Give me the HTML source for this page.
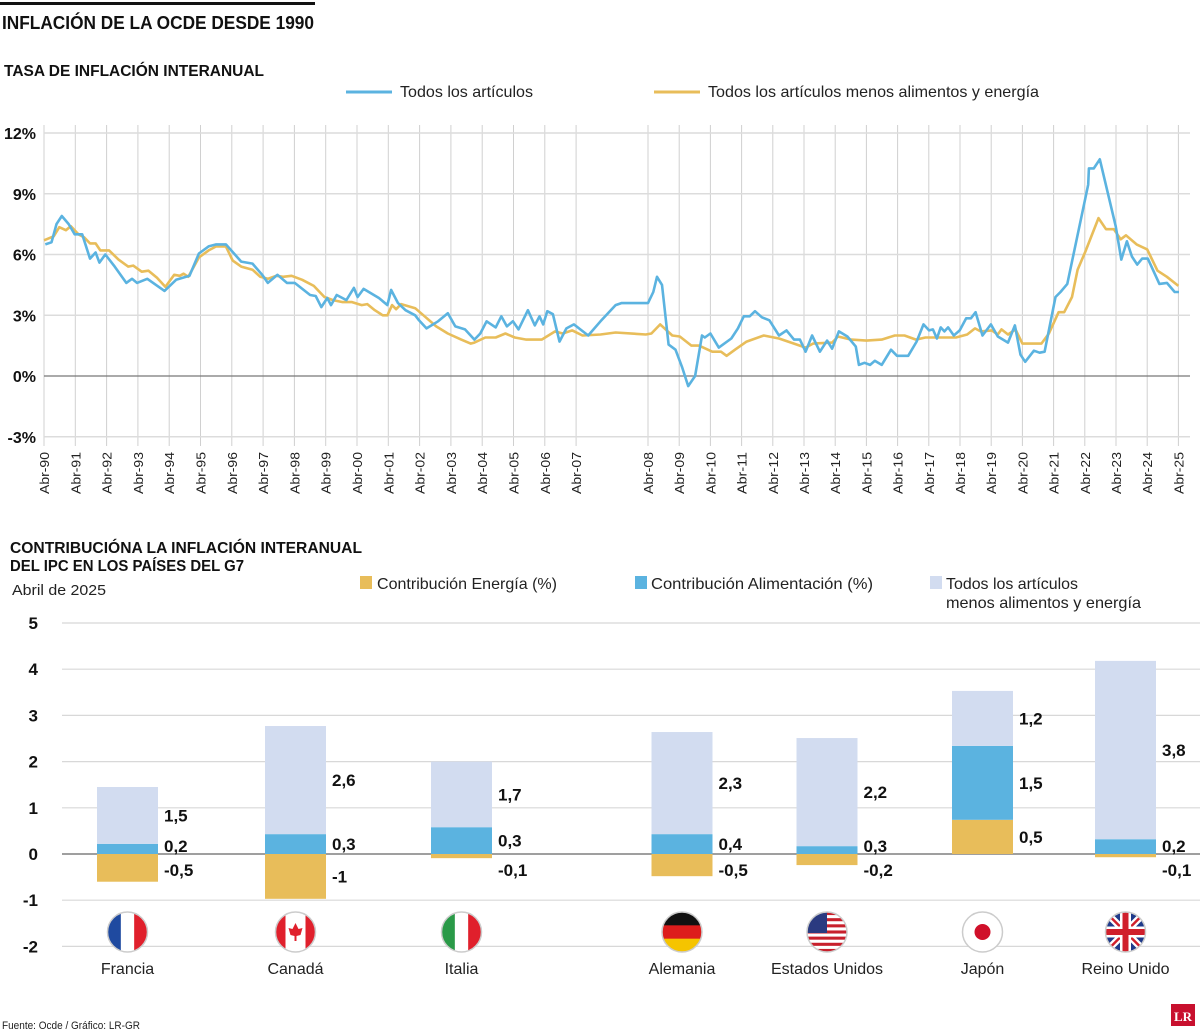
<!DOCTYPE html>
<html><head><meta charset="utf-8">
<style>
body{margin:0;background:#fff;width:1200px;height:1035px;overflow:hidden;font-family:"Liberation Sans",sans-serif;}
svg{display:block}
</style></head>
<body>
<svg id="c" width="1200" height="1035" viewBox="0 0 1200 1035" xmlns="http://www.w3.org/2000/svg">
<rect x="0" y="2" width="315" height="3" fill="#111"/>
<text x="2" y="29" font-size="18" font-weight="bold" fill="#111" textLength="312" lengthAdjust="spacingAndGlyphs">INFLACIÓN DE LA OCDE DESDE 1990</text>
<text x="4" y="76" font-size="16" font-weight="bold" fill="#111" textLength="260" lengthAdjust="spacingAndGlyphs">TASA DE INFLACIÓN INTERANUAL</text>
<g>
<line x1="346" y1="92" x2="392" y2="92" stroke="#5bb3e0" stroke-width="3"/>
<text x="400" y="97" font-size="16" fill="#222" textLength="133" lengthAdjust="spacingAndGlyphs">Todos los artículos</text>
<line x1="654" y1="92" x2="700" y2="92" stroke="#e8bd5a" stroke-width="3"/>
<text x="708" y="97" font-size="16" fill="#222" textLength="331" lengthAdjust="spacingAndGlyphs">Todos los artículos menos alimentos y energía</text>
</g>
<g id="topG"></g>
<text x="10" y="553" font-size="16" font-weight="bold" fill="#111" textLength="352" lengthAdjust="spacingAndGlyphs">CONTRIBUCIÓNA LA INFLACIÓN INTERANUAL</text>
<text x="10" y="571" font-size="16" font-weight="bold" fill="#111" textLength="234" lengthAdjust="spacingAndGlyphs">DEL IPC EN LOS PAÍSES DEL G7</text>
<text x="12" y="595" font-size="15" fill="#222" textLength="94" lengthAdjust="spacingAndGlyphs">Abril de 2025</text>
<g>
<rect x="360" y="576" width="12" height="13" fill="#e8bd5a"/>
<text x="377" y="589" font-size="16" fill="#222" textLength="180" lengthAdjust="spacingAndGlyphs">Contribución Energía (%)</text>
<rect x="635" y="576" width="12" height="13" fill="#5bb3e0"/>
<text x="651" y="589" font-size="16" fill="#222" textLength="222" lengthAdjust="spacingAndGlyphs">Contribución Alimentación (%)</text>
<rect x="930" y="576" width="12" height="13" fill="#d2dcf0"/>
<text x="946" y="589" font-size="16" fill="#222" textLength="132" lengthAdjust="spacingAndGlyphs">Todos los artículos</text>
<text x="946" y="608" font-size="16" fill="#222" textLength="195" lengthAdjust="spacingAndGlyphs">menos alimentos y energía</text>
</g>
<g id="botG"></g>
<text x="2" y="1029" font-size="11" fill="#222" textLength="138" lengthAdjust="spacingAndGlyphs">Fuente: Ocde / Gráfico: LR-GR</text>
<g>
<rect x="1171" y="1004" width="24" height="22" fill="#c8102e"/>
<text x="1183" y="1021" font-size="13" font-weight="bold" fill="#fff" text-anchor="middle" font-family="Liberation Serif,serif">LR</text>
</g>
</svg>
<script>
// ---------- top chart data ----------
const allT=[1990.04,1990.24,1990.40,1990.57,1990.79,1990.98,1991.22,1991.47,1991.65,1991.77,1991.96,1992.26,1992.63,1992.81,1992.97,1993.30,1993.85,1994.22,1994.65,1994.95,1995.26,1995.50,1995.81,1996.30,1996.66,1996.97,1997.15,1997.46,1997.76,1998.01,1998.50,1998.68,1998.86,1999.05,1999.17,1999.35,1999.66,1999.90,2000.02,2000.21,2000.70,2000.97,2001.09,2001.31,2001.55,2001.86,2001.98,2002.22,2002.59,2002.90,2003.14,2003.45,2003.75,2003.94,2004.14,2004.43,2004.61,2004.79,2004.98,2005.16,2005.46,2005.68,2005.83,2005.95,2006.08,2006.26,2006.47,2006.69,2006.93,2007.17,2007.34,2007.55,2007.63,2008.0,2008.17,2008.29,2008.45,2008.66,2008.88,2009.09,2009.29,2009.51,2009.73,2009.82,2010.0,2010.27,2010.67,2010.88,2011.07,2011.26,2011.43,2011.65,2011.89,2012.20,2012.44,2012.68,2012.87,2013.05,2013.26,2013.51,2013.74,2013.90,2014.12,2014.39,2014.66,2014.76,2014.94,2015.12,2015.27,2015.49,2015.79,2015.98,2016.34,2016.61,2016.83,2017.01,2017.13,2017.26,2017.38,2017.50,2017.62,2017.80,2017.99,2018.20,2018.35,2018.50,2018.72,2018.99,2019.21,2019.54,2019.76,2019.94,2020.09,2020.37,2020.55,2020.71,2021.06,2021.22,2021.44,2022.11,2022.13,2022.29,2022.48,2022.99,2023.17,2023.35,2023.51,2023.68,2023.84,2024.02,2024.39,2024.63,2024.88,2025.02];
const allV=[6.5,6.6,7.5,7.9,7.5,7.0,7.0,5.8,6.1,5.6,6.0,5.4,4.6,4.8,4.6,4.8,4.2,4.75,4.95,6.05,6.4,6.5,6.5,5.65,5.55,5.0,4.6,5.0,4.6,4.6,4.0,3.95,3.4,3.85,3.5,4.0,3.75,4.35,3.9,4.3,3.85,3.5,4.25,3.6,3.25,3.0,2.75,2.35,2.7,3.1,2.45,2.3,1.8,2.1,2.7,2.4,2.95,2.45,2.7,2.3,3.25,2.5,2.95,2.55,3.2,3.05,1.7,2.35,2.55,2.0,2.7,3.5,3.6,3.6,4.15,4.9,4.5,1.55,1.3,0.45,-0.5,0.0,2.0,1.9,2.1,1.4,1.85,2.35,2.95,2.95,3.2,2.9,2.75,2.0,2.25,1.8,1.8,1.2,2.0,1.2,1.75,1.35,2.2,1.95,1.45,0.55,0.65,0.55,0.75,0.55,1.3,1.0,1.0,1.7,2.55,2.25,2.3,1.85,2.4,2.2,2.4,2.0,2.25,2.85,2.85,3.15,2.0,2.55,1.95,1.65,2.5,1.05,0.7,1.25,1.15,1.2,3.9,4.15,4.55,9.45,10.25,10.25,10.7,7.4,5.75,6.65,5.9,5.5,5.8,5.8,4.55,4.6,4.15,4.15];
const coreT=[1990.0,1990.31,1990.49,1990.70,1990.86,1991.10,1991.28,1991.47,1991.65,1991.80,1992.08,1992.38,1992.69,1992.85,1993.12,1993.34,1993.61,1993.88,1994.16,1994.34,1994.46,1994.61,1994.95,1995.26,1995.50,1995.81,1996.03,1996.30,1996.66,1996.91,1997.15,1997.42,1997.64,1997.91,1998.25,1998.62,1998.96,1999.23,1999.54,1999.84,2000.15,2000.33,2000.57,2000.82,2000.97,2001.12,2001.25,2001.41,2001.86,2002.16,2002.53,2002.90,2003.33,2003.63,2003.75,2004.10,2004.43,2004.74,2005.04,2005.41,2005.90,2006.33,2006.57,2006.88,2007.09,2007.34,2007.55,2007.97,2008.11,2008.39,2008.78,2009.02,2009.39,2009.63,2010.06,2010.34,2010.52,2010.79,2011.16,2011.71,2012.20,2012.68,2013.05,2013.29,2013.90,2014.09,2014.51,2015.0,2015.49,2015.91,2016.22,2016.59,2016.89,2017.44,2017.87,2018.23,2018.48,2018.66,2019.02,2019.21,2019.33,2019.54,2019.78,2020.0,2020.61,2020.85,2021.16,2021.34,2021.59,2021.77,2022.02,2022.44,2022.68,2022.93,2023.15,2023.32,2023.66,2024.0,2024.33,2024.63,2025.0];
const coreV=[6.7,6.9,7.35,7.2,7.4,7.0,6.85,6.55,6.55,6.2,6.2,5.75,5.4,5.45,5.15,5.2,4.85,4.4,5.0,4.95,5.05,4.9,5.85,6.2,6.4,6.4,5.7,5.4,5.25,4.9,4.8,4.95,4.9,4.95,4.75,4.45,3.9,3.75,3.65,3.65,3.5,3.55,3.25,3.0,3.0,3.5,3.3,3.55,3.35,2.95,2.45,2.1,1.8,1.6,1.65,1.9,1.9,2.1,1.9,1.8,1.8,2.2,2.1,2.25,2.0,2.05,2.15,2.05,2.1,2.55,2.0,1.95,1.5,1.5,1.2,1.2,1.0,1.3,1.7,2.0,1.85,1.6,1.4,1.6,1.65,1.95,1.8,1.75,1.8,2.0,2.0,1.8,1.9,1.9,1.9,2.05,2.35,2.2,2.25,2.05,2.3,2.05,2.3,1.6,1.6,2.1,3.15,3.15,3.9,5.25,6.15,7.8,7.25,7.25,6.75,6.95,6.5,6.25,5.2,4.9,4.45];
const yTicks=[12,9,6,3,0,-3];
const yTickLabels=["12%","9%","6%","3%","0%","-3%"];
const xTickYears=[1990,1991,1992,1993,1994,1995,1996,1997,1998,1999,2000,2001,2002,2003,2004,2005,2006,2007,2008,2009,2010,2011,2012,2013,2014,2015,2016,2017,2018,2019,2020,2021,2022,2023,2024,2025];
const xTickLabels=["Abr-90","Abr-91","Abr-92","Abr-93","Abr-94","Abr-95","Abr-96","Abr-97","Abr-98","Abr-99","Abr-00","Abr-01","Abr-02","Abr-03","Abr-04","Abr-05","Abr-06","Abr-07","Abr-08","Abr-09","Abr-10","Abr-11","Abr-12","Abr-13","Abr-14","Abr-15","Abr-16","Abr-17","Abr-18","Abr-19","Abr-20","Abr-21","Abr-22","Abr-23","Abr-24","Abr-25"];
// ---------- bottom chart data ----------
const countries=["Francia","Canadá","Italia","Alemania","Estados Unidos","Japón","Reino Unido"];
const energyV=[-0.6,-0.97,-0.09,-0.48,-0.24,0.74,-0.07];
const foodV=[0.22,0.43,0.58,0.43,0.17,1.6,0.32];
const coreBarV=[1.23,2.34,1.42,2.21,2.34,1.19,3.86];
const energyLbl=["-0,5","-1","-0,1","-0,5","-0,2","0,5","-0,1"];
const foodLbl=["0,2","0,3","0,3","0,4","0,3","1,5","0,2"];
const coreLbl=["1,5","2,6","1,7","2,3","2,2","1,2","3,8"];
const bTicks=[5,4,3,2,1,0,-1,-2];

const NS="http://www.w3.org/2000/svg";
function mk(tag,attrs,parent){const e=document.createElementNS(NS,tag);for(const k in attrs)e.setAttribute(k,attrs[k]);parent.appendChild(e);return e;}

function X(t){ if(t<=2007) return 44+31.3*(t-1990); if(t<=2008) return 576+72*(t-2007); return 648+31.2*(t-2008);}
function Y(v){ return 376-20.25*v; }
const topG=document.getElementById('topG');
xTickYears.forEach((yr,i)=>{
  const g=mk('line',{x1:X(yr),x2:X(yr),y1:125,y2:446,stroke:'#d0d0d0','stroke-width':1},topG);
  
  
  const tx=X(yr)+5;
  const t=mk('text',{x:0,y:0,'font-size':13,fill:'#222','text-anchor':'end',textLength:42,lengthAdjust:'spacingAndGlyphs',transform:`translate(${tx},452) rotate(-90)`},topG);
  t.textContent=xTickLabels[i];
  
  
});
yTicks.forEach((v,i)=>{
  const l=mk('line',{x1:44,x2:1190,y1:Y(v),y2:Y(v),stroke:v===0?'#777':'#dcdcdc','stroke-width':v===0?1.3:1.5},topG);
  
  
  const t=mk('text',{x:36,y:Y(v)+6,'font-size':16,'font-weight':'bold',fill:'#111','text-anchor':'end'},topG);
  t.textContent=yTickLabels[i];
  
  
});
function path(T,V){return T.map((t,i)=>(i?'L':'M')+X(t).toFixed(1)+','+Y(V[i]).toFixed(1)).join('');}
const pc=mk('path',{d:path(coreT,coreV),fill:'none',stroke:'#e8bd5a','stroke-width':2.6,'stroke-linejoin':'round'},topG);


const pa=mk('path',{d:path(allT,allV),fill:'none',stroke:'#5bb3e0','stroke-width':2.6,'stroke-linejoin':'round'},topG);



function BY(v){return 854-46.2*v;}
const centers=[127.5,295.5,461.5,682,827,982.5,1125.5];
const bw=61;
const botG=document.getElementById('botG');
bTicks.forEach(v=>{
  const l=mk('line',{x1:62,x2:1200,y1:BY(v),y2:BY(v),stroke:v===0?'#666':'#d8d8d8','stroke-width':1.2},botG);
  
  
  const t=mk('text',{x:38,y:BY(v)+6,'font-size':17,'font-weight':'bold',fill:'#111','text-anchor':'end'},botG);
  t.textContent=String(v);
  
  
});
function seg(x,v0,v1,color,name){
  const y0=BY(Math.max(v0,v1)),y1=BY(Math.min(v0,v1));
  const r=mk('rect',{x:x,y:y0,width:bw,height:Math.max(0,y1-y0),fill:color},botG);
  
  
}
function lbl(x,y,s){
  const t=mk('text',{x:x,y:y,'font-size':17,'font-weight':'bold',fill:'#111'},botG);
  t.textContent=s;
  
  
}
countries.forEach((c,i)=>{
  const x=centers[i]-bw/2, e=energyV[i], f=foodV[i], k=coreBarV[i];
  let base=0;
  if(e>=0){ seg(x,0,e,'#e8bd5a','energy-bar'); base=e; }
  else seg(x,e,0,'#e8bd5a','energy-bar');
  seg(x,base,base+f,'#5bb3e0','food-bar');
  seg(x,base+f,base+f+k,'#d2dcf0','core-bar');
  const lx=x+bw+6;
  lbl(lx,BY(base+f+k/2)+6,coreLbl[i]);
  lbl(lx,Math.min(BY(base+f/2)+6,BY(base)-2+(e>=0?8:0)),foodLbl[i]);
  lbl(lx,e>=0?BY(e/2)+6:Math.max(BY(e/2)+6,BY(0)+22),energyLbl[i]);
  const t=mk('text',{x:centers[i],y:974,'font-size':16,fill:'#222','text-anchor':'middle'},botG);
  t.textContent=c;
  
  
});
const flagKeys=['fr','ca','it','de','us','jp','uk'];
const defs=mk('defs',{},botG);
centers.forEach((cx,i)=>{
  const cy=932,r=20;
  const cp=mk('clipPath',{id:'cp'+i},defs);
  mk('circle',{cx:cx,cy:cy,r:r},cp);
  const g=mk('g',{'clip-path':`url(#cp${i})`},botG);
  const k=flagKeys[i];
  
  
  if(k==='fr'||k==='it'){const cols=k==='fr'?['#1f4aa0','#fff','#e0202c']:['#2a9a48','#fff','#e0202c'];cols.forEach((col,j)=>mk('rect',{x:cx-r+j*2*r/3,y:cy-r,width:2*r/3+1,height:2*r,fill:col},g));}
  else if(k==='ca'){mk('rect',{x:cx-r,y:cy-r,width:2*r,height:2*r,fill:'#fff'},g);mk('rect',{x:cx-r,y:cy-r,width:10,height:2*r,fill:'#e0202c'},g);mk('rect',{x:cx+r-10,y:cy-r,width:10,height:2*r,fill:'#e0202c'},g);mk('path',{d:`M${cx},${cy-9}L${cx+3},${cy-3}L${cx+7},${cy-4}L${cx+5},${cy+3}L${cx+1},${cy+4}L${cx+1},${cy+9}L${cx-1},${cy+9}L${cx-1},${cy+4}L${cx-5},${cy+3}L${cx-7},${cy-4}L${cx-3},${cy-3}Z`,fill:'#e0202c'},g);}
  else if(k==='de'){['#111','#dd1c1c','#f5c400'].forEach((col,j)=>mk('rect',{x:cx-r,y:cy-r+j*2*r/3,width:2*r,height:2*r/3+1,fill:col},g));}
  else if(k==='us'){for(let j=0;j<13;j++)mk('rect',{x:cx-r,y:cy-r+j*40/13,width:2*r,height:40/13+0.5,fill:j%2?'#fff':'#c8202c'},g);mk('rect',{x:cx-r,y:cy-r,width:20,height:21,fill:'#2a3a80'},g);}
  else if(k==='jp'){mk('rect',{x:cx-r,y:cy-r,width:2*r,height:2*r,fill:'#fff'},g);mk('circle',{cx:cx,cy:cy,r:8,fill:'#d0102a'},g);}
  else if(k==='uk'){mk('rect',{x:cx-r,y:cy-r,width:2*r,height:2*r,fill:'#1f3a8a'},g);mk('path',{d:`M${cx-r},${cy-r}L${cx+r},${cy+r}M${cx+r},${cy-r}L${cx-r},${cy+r}`,stroke:'#fff','stroke-width':7},g);mk('path',{d:`M${cx-r},${cy-r}L${cx+r},${cy+r}M${cx+r},${cy-r}L${cx-r},${cy+r}`,stroke:'#d0202c','stroke-width':2.5},g);mk('path',{d:`M${cx},${cy-r}V${cy+r}M${cx-r},${cy}H${cx+r}`,stroke:'#fff','stroke-width':11},g);mk('path',{d:`M${cx},${cy-r}V${cy+r}M${cx-r},${cy}H${cx+r}`,stroke:'#d0202c','stroke-width':6},g);}
  mk('circle',{cx:cx,cy:cy,r:r,fill:'none',stroke:'#ccc','stroke-width':1.5},botG);
});
</script>
</body></html>
